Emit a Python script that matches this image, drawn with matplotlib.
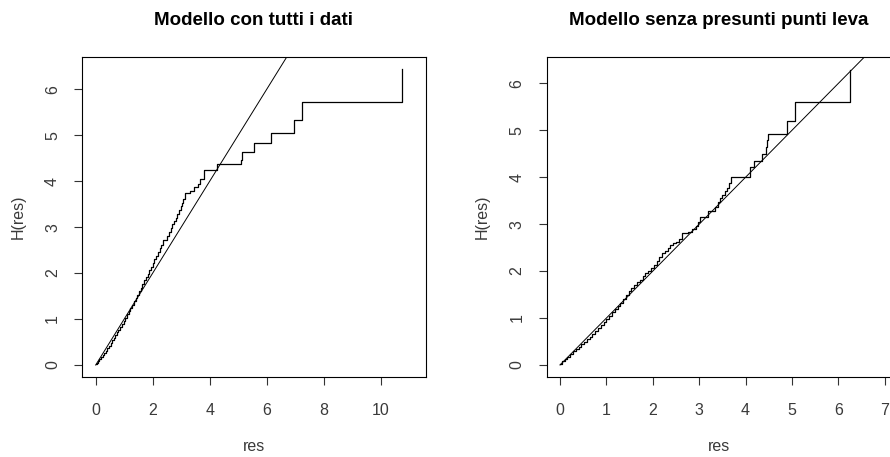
import matplotlib
matplotlib.use('Agg')
import matplotlib.pyplot as plt

plt.rcParams['font.family'] = ['Liberation Sans', 'DejaVu Sans']

# ---------------- data ----------------
title_left = "Modello con tutti i dati"
title_right = "Modello senza presunti punti leva"
x_label = "res"
y_label = "H(res)"

# Left panel: cumulative hazard of residuals (step function)
left_res = [0.00, 0.04, 0.09, 0.13, 0.19, 0.24, 0.30, 0.35, 0.41, 0.46, 0.52,
            0.58, 0.63, 0.69, 0.75, 0.80, 0.86, 0.92, 0.98, 1.04, 1.10, 1.16,
            1.22, 1.28, 1.34, 1.40, 1.46, 1.52, 1.58, 1.64, 1.70, 1.76, 1.82,
            1.88, 1.94, 2.00, 2.06, 2.12, 2.18, 2.24, 2.30, 2.37, 2.49, 2.56,
            2.63, 2.69, 2.75, 2.81, 2.87, 2.93, 2.98, 3.03, 3.08, 3.13, 3.31,
            3.46, 3.60, 3.66, 3.80, 4.25, 5.10, 5.12, 5.54, 6.15, 6.97, 7.23,
            10.74]
left_H = [0.02, 0.05, 0.09, 0.12, 0.17, 0.22, 0.27, 0.31, 0.37, 0.42, 0.48,
          0.54, 0.59, 0.65, 0.71, 0.76, 0.83, 0.89, 0.96, 1.03, 1.10, 1.17,
          1.24, 1.31, 1.39, 1.46, 1.53, 1.60, 1.68, 1.76, 1.84, 1.92, 1.99,
          2.07, 2.14, 2.22, 2.30, 2.38, 2.46, 2.54, 2.61, 2.72, 2.80, 2.90,
          2.99, 3.06, 3.13, 3.21, 3.29, 3.38, 3.46, 3.53, 3.62, 3.74, 3.79,
          3.88, 3.95, 4.04, 4.24, 4.37, 4.47, 4.64, 4.84, 5.06, 5.33, 5.73,
          6.44]

# Right panel
right_res = [0.00, 0.05, 0.10, 0.16, 0.22, 0.28, 0.34, 0.40, 0.46, 0.52, 0.58,
             0.64, 0.70, 0.76, 0.82, 0.88, 0.94, 1.00, 1.06, 1.12, 1.18, 1.24,
             1.30, 1.36, 1.42, 1.48, 1.54, 1.60, 1.66, 1.72, 1.78, 1.84, 1.90,
             1.96, 2.02, 2.08, 2.14, 2.20, 2.26, 2.32, 2.38, 2.44, 2.50, 2.56,
             2.62, 2.76, 2.84, 2.92, 2.98, 3.02, 3.20, 3.34, 3.40, 3.45, 3.50,
             3.55, 3.60, 3.65, 3.69, 4.09, 4.18, 4.36, 4.44, 4.46, 4.48, 4.90,
             5.06, 6.24]
right_H = [0.03, 0.08, 0.13, 0.18, 0.23, 0.29, 0.34, 0.39, 0.44, 0.49, 0.55,
           0.60, 0.66, 0.72, 0.78, 0.85, 0.91, 0.98, 1.05, 1.12, 1.19, 1.26,
           1.33, 1.41, 1.49, 1.57, 1.64, 1.70, 1.76, 1.82, 1.89, 1.95, 2.00,
           2.06, 2.14, 2.22, 2.30, 2.38, 2.43, 2.50, 2.56, 2.60, 2.63, 2.68,
           2.82, 2.84, 2.89, 2.96, 3.04, 3.16, 3.28, 3.36, 3.48, 3.55, 3.62,
           3.70, 3.78, 3.88, 4.01, 4.22, 4.34, 4.49, 4.65, 4.80, 4.91, 5.20,
           5.61, 6.28]

# reference line H = res
ref_line = [0, 12]

left_xticks = [0, 2, 4, 6, 8, 10]
right_xticks = [0, 1, 2, 3, 4, 5, 6, 7]
yticks = [0, 1, 2, 3, 4, 5, 6]

# ---------------- figure ----------------
W, H = 890, 457
fig = plt.figure(figsize=(W / 100, H / 100), dpi=100)

def add_ax(l, r, t, b):
    return fig.add_axes([l / W, 1 - b / H, (r - l) / W, (b - t) / H])

ax1 = add_ax(82.3, 426, 56.7, 377)
ax2 = add_ax(546.7, 892, 56.7, 377)

text_col = '#3a3a3a'

def style(ax, xlim, ylim, xt):
    ax.set_xlim(*xlim)
    ax.set_ylim(*ylim)
    ax.set_xticks(xt)
    ax.set_yticks(yticks)
    ax.set_xticklabels([str(v) for v in xt])
    ax.set_yticklabels([str(v) for v in yticks], rotation=90, va='center')
    for s in ax.spines.values():
        s.set_linewidth(0.8)
        s.set_color('black')
    ax.tick_params(direction='out', length=6, width=0.8, color='#333333',
                   labelsize=11.5, labelcolor=text_col)
    ax.tick_params(axis='x', pad=13)
    ax.tick_params(axis='y', pad=10)

style(ax1, (-0.470, 11.59), (-0.261, 6.71), left_xticks)
style(ax2, (-0.287, 7.155), (-0.256, 6.567), right_xticks)

for ax, xs, ys in ((ax1, left_res, left_H), (ax2, right_res, right_H)):
    ax.plot(xs, ys, drawstyle='steps-post', color='black', lw=0.9)
    ax.plot(ref_line, ref_line, color='black', lw=0.7)

# titles and labels
def ftext(xpx, ypx, s, **kw):
    fig.text(xpx / W, 1 - ypx / H, s, **kw)

ftext(254, 25, title_left, ha='center', va='baseline', fontsize=13.5,
      fontweight='bold', color='black')
ftext(719, 25, title_right, ha='center', va='baseline', fontsize=13.5,
      fontweight='bold', color='black')
ftext(254, 451, x_label, ha='center', va='baseline', fontsize=11.5, color=text_col)
ftext(719, 451, x_label, ha='center', va='baseline', fontsize=11.5, color=text_col)
ftext(18, 217, y_label, ha='center', va='center', rotation=90, fontsize=11.5,
      color=text_col)
ftext(482, 217, y_label, ha='center', va='center', rotation=90, fontsize=11.5,
      color=text_col)

fig.savefig('out.png', dpi=100)
